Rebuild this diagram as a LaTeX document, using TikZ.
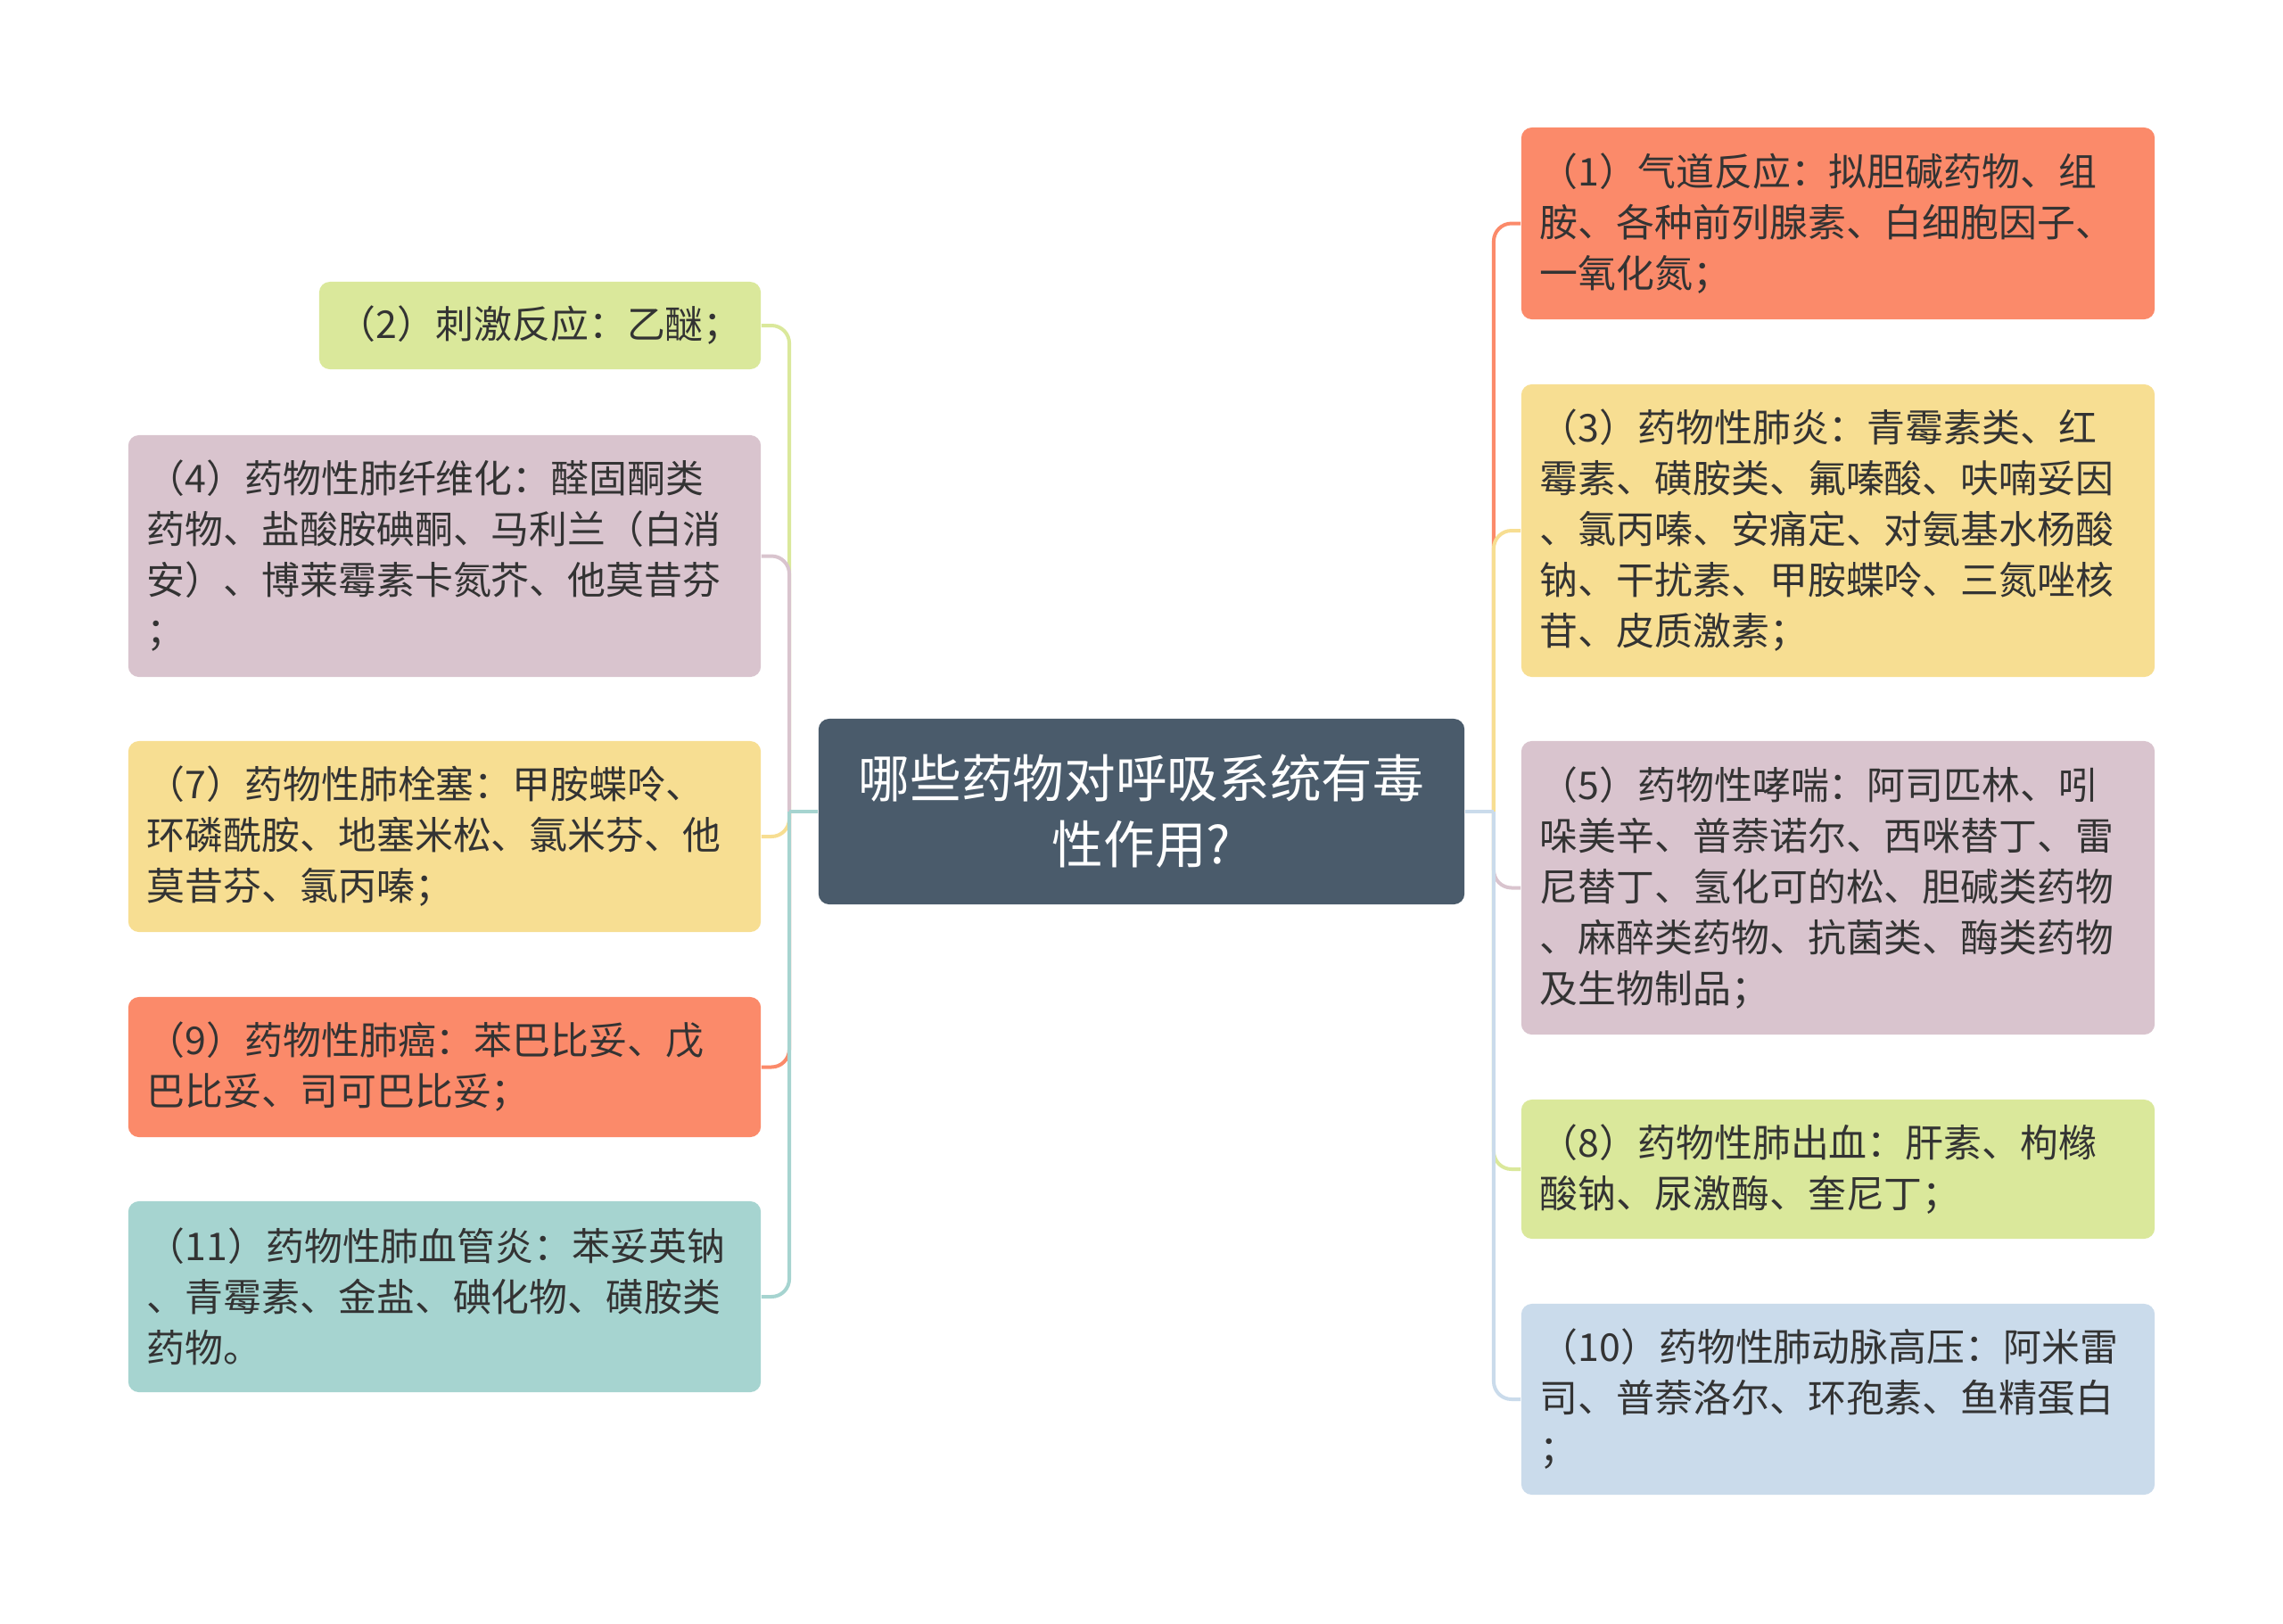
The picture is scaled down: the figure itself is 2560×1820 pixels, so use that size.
\documentclass[tikz,border=0pt]{standalone}
\usepackage{fontspec}
\setmainfont{Noto Sans CJK SC}
\definecolor{cSalmon}{HTML}{FB8A6A}
\definecolor{cYellow}{HTML}{F7DE92}
\definecolor{cMauve}{HTML}{D9C4CE}
\definecolor{cGreen}{HTML}{DAE89B}
\definecolor{cTeal}{HTML}{A6D4D0}
\definecolor{cBlue}{HTML}{CADBEB}
\definecolor{cCenter}{HTML}{4A5B6B}
\definecolor{cText}{HTML}{333333}
\tikzset{
  leaf/.style={rounded corners=0.12cm, text width=#1, inner xsep=0.21cm, inner ysep=0pt,
    align=left, text=cText, font=\fontsize{12.2pt}{16.2pt}\selectfont},
  centerbox/.style={rounded corners=0.12cm, fill=cCenter, text=white, align=center,
    minimum width=7.24cm, minimum height=2.08cm, inner sep=0pt,
    font=\fontsize{16.4pt}{21pt}\selectfont},
  conn/.style={line width=0.04cm},
  branch/.style={line width=0.04cm, rounded corners=0.2cm}
}
\begin{document}
\begin{tikzpicture}[x=0.01cm,y=-0.01cm]
\useasboundingbox (0,0) rectangle (2560,1820);
% center
\node[centerbox] (c) at (1280,910) {哪些药物对呼吸系统有毒\\性作用?};
% left
\node[leaf=4.53cm, fill=cGreen, minimum height=0.98cm] (n2) at (605.5,365) {（2）刺激反应：乙醚；};
\node[leaf=6.67cm, fill=cMauve, minimum height=2.71cm] (n4) at (498.5,623.5) {（4）药物性肺纤维化：醛固酮类\\药物、盐酸胺碘酮、马利兰（白消\\安）、博莱霉素卡氮芥、他莫昔芬\\；};
\node[leaf=6.67cm, fill=cYellow, minimum height=2.14cm] (n7) at (498.5,938) {（7）药物性肺栓塞：甲胺蝶呤、\\环磷酰胺、地塞米松、氯米芬、他\\莫昔芬、氯丙嗪；};
\node[leaf=6.67cm, fill=cSalmon, minimum height=1.57cm] (n9) at (498.5,1196.5) {（9）药物性肺癌：苯巴比妥、戊\\巴比妥、司可巴比妥；};
\node[leaf=6.67cm, fill=cTeal, minimum height=2.14cm] (n11) at (498.5,1454) {（11）药物性肺血管炎：苯妥英钠\\、青霉素、金盐、碘化物、磺胺类\\药物。};
% right
\node[leaf=6.68cm, fill=cSalmon, minimum height=2.15cm] (n1) at (2061,250.5) {（1）气道反应：拟胆碱药物、组\\胺、各种前列腺素、白细胞因子、\\一氧化氮；};
\node[leaf=6.68cm, fill=cYellow, minimum height=3.28cm] (n3) at (2061,595) {（3）药物性肺炎：青霉素类、红\\霉素、磺胺类、氟嗪酸、呋喃妥因\\、氯丙嗪、安痛定、对氨基水杨酸\\钠、干扰素、甲胺蝶呤、三氮唑核\\苷、皮质激素；};
\node[leaf=6.68cm, fill=cMauve, minimum height=3.29cm] (n5) at (2061,995.5) {（5）药物性哮喘：阿司匹林、吲\\哚美辛、普萘诺尔、西咪替丁、雷\\尼替丁、氢化可的松、胆碱类药物\\、麻醉类药物、抗菌类、酶类药物\\及生物制品；};
\node[leaf=6.68cm, fill=cGreen, minimum height=1.56cm] (n8) at (2061,1311) {（8）药物性肺出血：肝素、枸橼\\酸钠、尿激酶、奎尼丁；};
\node[leaf=6.68cm, fill=cBlue, minimum height=2.14cm] (n10) at (2061,1569) {（10）药物性肺动脉高压：阿米雷\\司、普萘洛尔、环孢素、鱼精蛋白\\；};
% junction points
\coordinate (tl) at ([xshift=-0.32cm]c.west);
\coordinate (tr) at ([xshift=0.32cm]c.east);
% connectors left
\draw[branch, draw=cGreen]  (tl) |- (n2.east);
\draw[branch, draw=cMauve]  (tl) |- (n4.east);
\draw[branch, draw=cYellow] (tl) |- (n7.east);
\draw[branch, draw=cSalmon] (tl) |- (n9.east);
\draw[branch, draw=cTeal]   (tl) |- (n11.east);
\draw[conn, draw=cTeal] (c.west) -- (tl);
% connectors right
\draw[branch, draw=cSalmon] (tr) |- (n1.west);
\draw[branch, draw=cYellow] (tr) |- (n3.west);
\draw[branch, draw=cMauve]  (tr) |- (n5.west);
\draw[branch, draw=cGreen]  (tr) |- (n8.west);
\draw[branch, draw=cBlue]   (tr) |- (n10.west);
\draw[conn, draw=cBlue] (c.east) -- (tr);
\end{tikzpicture}
\end{document}
